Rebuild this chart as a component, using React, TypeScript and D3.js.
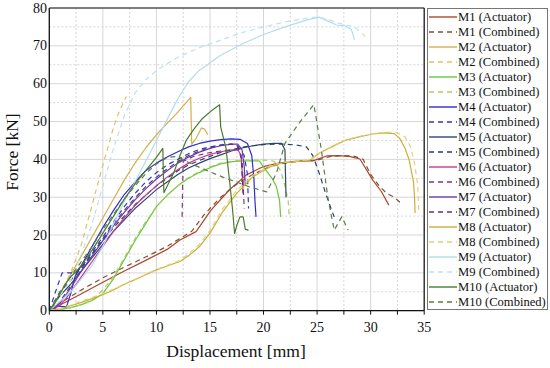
import React from 'react';
import * as d3 from 'd3';

type Pt = [number, number];

// displacement [mm], force [kN]
const m1Act: Pt[] = [[0,0],[1,1.5],[3,4.5],[5,7.5],[7,10.5],[9,13.3],[11,16.2],[12.2,18.7],[13.7,20.9],[15.1,26.6],[16.8,31.9],[18.4,35.9],[19.9,38],[21.5,39.1],[23,39.5],[24.6,39.6],[25.9,40.9],[27,41],[28,40.8],[29,40.1],[30.2,34.5],[31,31.5],[31.7,27.9]];
const m1Comb: Pt[] = [[0,0],[1,2],[3,5.5],[5,8.7],[7,11.5],[9,14.2],[11,17],[13.3,21],[14.5,25.5],[16,30],[17.5,33.5],[19,36],[20.5,38],[22,39],[23.5,39.6],[25,39.8],[26.3,40.8],[27.5,41],[28.5,40.8],[29.3,40],[30,36],[30.8,33],[31.5,31],[32.2,30],[33,28]];
const m2Act: Pt[] = [[0,0],[1,4.5],[2,9.5],[3,14.5],[4,19.5],[5,24.5],[6,29.5],[7,34.5],[8,39],[9,43],[10,46.5],[11,49.5],[12,52.5],[13.2,56.4],[13.3,44],[13.7,45.5],[14.2,48.3],[14.5,48],[14.8,46.5]];
const m2Comb: Pt[] = [[0,0],[0.5,2],[1,4.5],[2,10],[3,17.5],[4,28],[5,38.5],[5.5,43.5],[6,48.5],[6.5,52.5],[7,55.5],[7.2,56.6]];
const m3Act: Pt[] = [[0,0],[1,0.3],[2,0.8],[3,1.6],[4,2.7],[5,4.5],[6,8.5],[7,13.5],[8,18.5],[9,23],[10,27.5],[11,30.5],[12,33],[13,35],[14,36.5],[15,37.8],[16,38.8],[17.1,39.4],[18,39.6],[19.6,39.6],[20.2,37.2],[20.8,35],[21.2,32.8],[21.5,29],[21.6,24.8]];
const m3Comb: Pt[] = [[0,0],[1,0.3],[2,0.8],[3,1.6],[4,2.8],[5,5.5],[6,9],[7,14],[8,19],[9,23.5],[10,27.5],[11,30.5],[12,33],[13,35.2],[14,36.8],[15,38],[16,39],[17,39.5],[18,39.8],[20,39.8],[21,39.5],[21.6,37],[22,33],[22.3,29],[22.4,24.8]];
const m4Act: Pt[] = [[0,0],[0.5,1.3],[1.6,1],[2,4.5],[2.4,9],[3,12],[4,17],[5,22],[6,26.5],[7,30.7],[8,34],[9,37],[10,39],[11,40.6],[12,42],[13,43.3],[14,44.2],[15,44.8],[16,45.2],[17,45.4],[17.8,45.3],[18.5,44.2],[18.9,41],[19.1,35],[19.2,29],[19.3,24.8]];
const m4Comb: Pt[] = [[0,0],[0.7,6],[1.2,10],[2.4,10],[3,11.5],[4,15.5],[5,19.5],[6,23.5],[7,27.5],[8,31],[9,34],[10,36.5],[11,38.5],[12,40],[13,41.5],[14,42.6],[15,43.3],[16,43.8],[17,44],[17.6,43.5],[18.2,41],[18.5,36],[18.6,27]];
const m5Act: Pt[] = [[0,0],[0.5,2],[1,4],[2,7],[3,10.5],[4,14],[5,17.5],[6,21],[7,24],[8,27],[9,29.5],[10,32],[11,34],[12,36],[13,37.7],[14,39],[15,40.2],[16,41.2],[17,42.2],[18,43],[19,43.6],[20,44],[21,44.2],[21.7,44.2],[22,42.5],[22.05,36],[22.1,30]];
const m5Comb: Pt[] = [[0,0],[0.5,2.5],[1,5],[2,8],[3,11.5],[4,15],[5,18.5],[6,22],[7,25],[8,28],[9,30.5],[10,33],[11,35],[12,37],[13,38.5],[14,39.7],[15,40.8],[16,41.8],[17,42.5],[18,43.2],[19,43.6],[20,43.9],[21,44],[22,44],[23,43.8],[24,43.3],[24.6,41],[25.2,36.3],[25.8,31],[26.3,27],[26.6,24.8]];
const m6Act: Pt[] = [[0,0],[0.5,0.5],[1,1.5],[1.5,3],[2,5],[3,9],[4,13],[5,17],[6,21],[7,24.5],[8,27.8],[9,30.5],[10,33],[11,35.3],[12,37.3],[13,39],[14,40.3],[15,41.3],[16,42],[17,42.5],[17.6,42.6],[17.9,41],[18,37],[18.1,31]];
const m6Comb: Pt[] = [[12.4,24.8],[12.45,33],[12.5,39.5],[13.5,40.8],[15,41.8],[16.5,42.4],[17.6,42.5],[18,40],[18.1,33],[18.2,27]];
const m7Act: Pt[] = [[0,0],[0.5,0.8],[1,2],[2,6],[3,10.5],[4,14.5],[5,18.5],[6,22.5],[7,26],[8,29.3],[9,32.2],[10,34.8],[11,37],[12,39],[13,40.6],[14,41.9],[15,42.9],[16,43.6],[17,44],[17.6,44],[18,42.5],[18.2,38],[18.3,33]];
const m7Comb: Pt[] = [[0,0],[0.5,1],[1,2.5],[2,6.5],[3,11],[4,15],[5,19],[6,23],[7,26.5],[8,29.8],[9,32.8],[10,35.3],[11,37.5],[12,39.4],[13,41],[14,42.2],[15,43.1],[16,43.7],[17,44],[17.5,43.8],[17.9,41],[18,36],[18.1,31]];
const m8Act: Pt[] = [[0,0],[1,0.5],[2,1.3],[3,2.2],[4,3.2],[5,4.2],[6,5.5],[7,7],[8,8.2],[9,9.5],[10,10.8],[11,11.8],[12.2,13],[13,14.5],[14,16.9],[15,20.5],[16.2,26.2],[17.5,31],[19,35.4],[20.6,38],[21.8,39.1],[23,39.4],[24.3,39.7],[25.2,41.6],[26.5,43.5],[27.7,45.1],[29,46],[30.2,46.7],[31.4,47],[32.2,46.8],[32.7,45.6],[33.2,43],[33.6,39.8],[34,34],[34.1,30],[34.15,25.8]];
const m8Comb: Pt[] = [[0,0],[1,0.5],[2,1.5],[3,2.5],[4,3.5],[5,4.5],[6,5.7],[7,7],[8,8.3],[9,9.6],[10,10.9],[11,12],[12.2,13.3],[13,15],[14,17.5],[15,21.2],[16.2,27],[17.5,31.8],[19,35.8],[20.6,38.3],[21.8,39.3],[23,39.6],[24.3,39.9],[25.2,41.6],[26.5,43.6],[27.7,45.2],[29,46.1],[30.2,46.8],[31.4,47.2],[32.5,47],[33.2,46],[33.7,43.5],[34.1,39],[34.4,33],[34.5,26]];
const m9Act: Pt[] = [[0,0],[2,5],[4,12],[5,17],[6,23],[7,29],[8,34],[9,39.5],[10,45],[11,50.5],[12,56],[13,60.5],[14,63.5],[16,67.5],[18,70.5],[20,73],[22,75],[24,76.8],[25.2,77.6],[26,76.6],[26.8,75.5],[27.6,75.3],[28.2,74.3],[28.5,71.6]];
const m9Comb: Pt[] = [[0,0],[2,8],[3,15],[4,23],[5,33],[6,43],[7,51.5],[8,57.5],[9,61],[10,63.5],[12,67],[14,69.5],[16,71.5],[18,73.5],[20,75],[22,76.3],[24,77.3],[25,77.6],[26,77],[27,76],[28.5,75],[29.5,72.5]];
const m10Act: Pt[] = [[0,0],[0.5,2],[1,4.5],[1.5,7],[2,9],[2.5,10.3],[3,12],[4,16],[5,20.5],[6,25],[7,29.5],[8,33.5],[9,37],[10,40.5],[10.6,42.9],[10.65,36],[10.7,31.2],[11.1,33.5],[11.6,36.3],[12.2,41],[12.8,45.1],[13.5,48],[14.3,50.8],[15.2,53],[15.9,54.4],[16,48.6],[16.5,42.9],[16.8,35],[17.1,27],[17.3,20.4],[17.5,22.5],[17.8,24.8],[18.1,24.8],[18.3,21.5],[18.6,21.3]];
const m10Comb: Pt[] = [[0,0],[0.5,2.5],[1,5],[2,9],[3,13],[4,17],[5,21.5],[6,25.5],[7,29.5],[8,33],[9,36.2],[10,38.8],[11,40.5],[12,40.8],[12.9,39.3],[14.5,37.3],[16.2,35.3],[17.5,34],[18.7,32.7],[20.3,31.4],[21.2,36.3],[22,44.2],[23.3,49.5],[24.7,54.5],[25.4,42.5],[26,30],[26.6,21.3],[27.3,24.8],[27.9,21.3]];

const seriesNames = ['M1 (Actuator)','M1 (Combined)','M2 (Actuator)','M2 (Combined)','M3 (Actuator)','M3 (Combined)','M4 (Actuator)','M4 (Combined)','M5 (Actuator)','M5 (Combined)','M6 (Actuator)','M6 (Combined)','M7 (Actuator)','M7 (Combined)','M8 (Actuator)','M8 (Combined)','M9 (Actuator)','M9 (Combined)','M10 (Actuator)','M10 (Combined)'];
const seriesData = [m1Act,m1Comb,m2Act,m2Comb,m3Act,m3Comb,m4Act,m4Comb,m5Act,m5Comb,m6Act,m6Comb,m7Act,m7Comb,m8Act,m8Comb,m9Act,m9Comb,m10Act,m10Comb];
const colors = ['#b0442c','#7e5234','#d2b04e','#d4c866','#6cc444','#a2d256','#2c2cd0','#2c3cb0','#2c4a6c','#2c3e62','#c03c96','#8c3274','#6a3aa6','#5a3292','#c9b034','#e2d07e','#b4dcee','#c0e0ee','#4a7a2e','#5c7c4a'];

const xTicks = [0,5,10,15,20,25,30,35];
const yTicks = [0,10,20,30,40,50,60,70,80];

const W = 550, H = 368;
const FONT = 'Liberation Serif';

export default function App() {
  const x = d3.scaleLinear().domain([0, 35]).range([49.3, 424.2]);
  const y = d3.scaleLinear().domain([0, 80]).range([310.7, 8]);
  const line = d3.line<Pt>().x(d => x(d[0])).y(d => y(d[1]));
  const [x0, x1] = x.range();
  const [y0, y1] = y.range();
  const xMinor = d3.range(0, 35.01, 2.5);
  const yMinor = d3.range(0, 80.01, 5);

  return (
    <svg width={W} height={H} style={{ position: 'absolute', left: 0, top: 0, background: '#fff' }}>
      <defs>
        <clipPath id="plot"><rect x={x0} y={y1} width={x1 - x0} height={y0 - y1} /></clipPath>
      </defs>
      {/* grid */}
      {xMinor.map(v => (
        <line key={'gx' + v} x1={x(v)} x2={x(v)} y1={y1} y2={y0} stroke="#d6d6d6" strokeWidth={1}
          strokeDasharray={v % 5 === 0 ? undefined : '2,2'} />
      ))}
      {yMinor.map(v => (
        <line key={'gy' + v} x1={x0} x2={x1} y1={y(v)} y2={y(v)} stroke="#d6d6d6" strokeWidth={1}
          strokeDasharray={v % 10 === 0 ? undefined : '2,2'} />
      ))}
      {/* curves */}
      <g clipPath="url(#plot)" fill="none">
        {seriesData.map((d, i) => (
          <path key={seriesNames[i]} d={line(d) || ''} stroke={colors[i]} strokeWidth={1.2}
            strokeDasharray={i % 2 === 1 ? '5,4' : undefined} strokeLinejoin="round" />
        ))}
      </g>
      {/* frame */}
      <line x1={x0} x2={x1} y1={y1} y2={y1} stroke="#111" strokeWidth={1.2} />
      <line x1={x1} x2={x1} y1={y1} y2={y0} stroke="#111" strokeWidth={1.2} />
      <line x1={x0} x2={x0} y1={y1} y2={y0} stroke="#111" strokeWidth={1.3} />
      <line x1={x0} x2={x1} y1={y0} y2={y0} stroke="#111" strokeWidth={1.3} />
      {xMinor.map(v => (
        <line key={'tx' + v} x1={x(v)} x2={x(v)} y1={y0} y2={y0 + 4} stroke="#111" strokeWidth={1} />
      ))}
      {xTicks.map(v => (
        <text key={'lx' + v} x={x(v)} y={332} textAnchor="middle" fontSize={14} fontFamily={FONT} fill="#111">{v}</text>
      ))}
      {yTicks.map(v => (
        <text key={'ly' + v} x={47} y={y(v) + 4.6} textAnchor="end" fontSize={14} fontFamily={FONT} fill="#111">{v}</text>
      ))}
      <text x={236} y={357} textAnchor="middle" fontSize={17.5} fontFamily={FONT} fill="#111">Displacement [mm]</text>
      <text transform="translate(18,152) rotate(-90)" textAnchor="middle" fontSize={17.5} fontFamily={FONT} fill="#111">Force [kN]</text>
      {/* legend */}
      <rect x={427.5} y={8.5} width={120} height={301} fill="#fff" stroke="#777" strokeWidth={1} />
      {seriesNames.map((n, i) => {
        const ly = 17 + i * 15;
        return (
          <g key={'lg' + n}>
            <line x1={429} x2={457} y1={ly} y2={ly} stroke={colors[i]} strokeWidth={1.4}
              strokeDasharray={i % 2 === 1 ? '5,4' : undefined} />
            <text x={458} y={ly + 4.3} fontSize={12.6} fontFamily={FONT} fill="#111">{n}</text>
          </g>
        );
      })}
    </svg>
  );
}
